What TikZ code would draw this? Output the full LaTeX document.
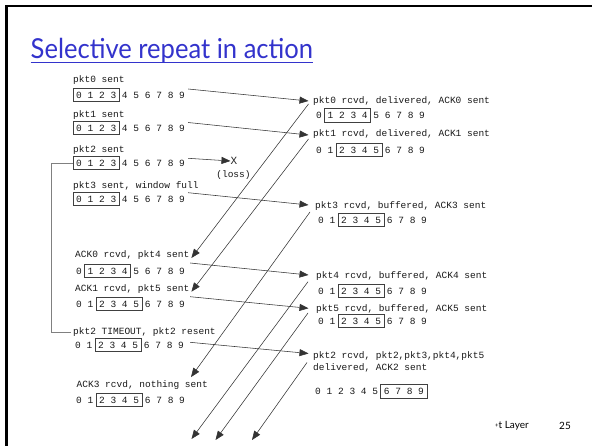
\documentclass[tikz,border=0pt]{standalone}
\usepackage{fontspec}
\setmonofont{Liberation Mono}
\newfontfamily\slidefont{Lato}
\usetikzlibrary{arrows.meta,fit,positioning}

\definecolor{titleblue}{RGB}{51,51,204}

\tikzset{
  lbl/.style={font=\ttfamily\fontsize{9.5}{11}\selectfont, inner sep=0pt, anchor=west,
    text height=6.5pt, text depth=2pt, text=black!90},
  digit/.style={font=\ttfamily\fontsize{9.5}{11}\selectfont, inner sep=0pt,
    minimum width=5.7pt, text height=6.5pt, text depth=0pt, text=black!90},
  winbox/.style={draw=black!75, line width=0.6pt, inner xsep=2.9pt, inner ysep=3.25pt},
  pkt/.style={draw=black!80, line width=0.55pt, -{Triangle[length=9pt,width=7pt]}},
  timer/.style={draw=black!50, line width=0.8pt},
}

% sequence numbers 0..9, window boxed: name, x of 0, y, first, last
\newcommand{\seqrow}[5]{%
  \foreach \d in {0,...,9}
    \node[digit] (#1-\d) at (#2+\d*11.45, #3) {\d};
  \node[winbox, fit=(#1-#4)(#1-#5)] (#1-box) {};
}

\begin{document}
\begin{tikzpicture}[x=1pt,y=1pt]
\useasboundingbox (0,0) rectangle (592,-446);
\fill[white] (0,0) rectangle (592,-446);
\draw[line width=2.5pt] (6.5,-446) -- (6.5,-6) -- (592,-6);

\node[inner sep=0pt, anchor=base west, text=titleblue, xscale=0.93,
  font=\slidefont\fontsize{27.5}{30}\selectfont] (title) at (30.5,-58.3) {Selective repeat in action};
\draw[titleblue, line width=1.4pt] ([yshift=-4.2pt]title.base west) -- ([yshift=-4.2pt]title.base east);

% sender
\node[lbl] (s0lab) at (73,-80) {pkt0 sent};
\seqrow{s0}{79}{-95}{0}{3}
\node[lbl] (s1lab) at (73,-115) {pkt1 sent};
\seqrow{s1}{79}{-128}{0}{3}
\node[lbl] (s2lab) at (73,-150) {pkt2 sent};
\seqrow{s2}{79}{-163}{0}{3}
\node[lbl] (s3lab) at (73,-186) {pkt3 sent, window full};
\seqrow{s3}{79}{-199}{0}{3}
\node[lbl] (a0lab) at (75,-255) {ACK0 rcvd, pkt4 sent};
\seqrow{a0}{79}{-271}{1}{4}
\node[lbl] (a1lab) at (75,-289) {ACK1 rcvd, pkt5 sent};
\seqrow{a1}{79}{-304}{2}{5}
\node[lbl] (t2lab) at (73,-332) {pkt2 TIMEOUT, pkt2 resent};
\seqrow{t2}{78}{-345}{2}{5}
\node[lbl] (a3lab) at (76.5,-385) {ACK3 rcvd, nothing sent};
\seqrow{a3}{79}{-400}{2}{5}

% receiver
\node[lbl] (r0lab) at (313,-101) {pkt0 rcvd, delivered, ACK0 sent};
\seqrow{r0}{319}{-115.5}{1}{4}
\node[lbl] (r1lab) at (313,-134) {pkt1 rcvd, delivered, ACK1 sent};
\seqrow{r1}{319}{-150}{2}{5}
\node[lbl] (r3lab) at (315,-206) {pkt3 rcvd, buffered, ACK3 sent};
\seqrow{r3}{321}{-220}{2}{5}
\node[lbl] (r4lab) at (316,-276) {pkt4 rcvd, buffered, ACK4 sent};
\seqrow{r4}{321}{-291}{2}{5}
\node[lbl] (r5lab) at (316,-309) {pkt5 rcvd, buffered, ACK5 sent};
\seqrow{r5}{321}{-321}{2}{5}
\node[lbl] (r2lab) at (313,-356.5) {pkt2 rcvd, pkt2,pkt3,pkt4,pkt5};
\node[lbl] (r2lab2) at (313,-368) {delivered, ACK2 sent};
\seqrow{r2}{318}{-391.5}{6}{9}

% lost packet
\node[font=\ttfamily\fontsize{11}{12}\selectfont, inner sep=0pt, text=black!85] (lossx) at (234,-161) {X};
\node[lbl, anchor=center] (losslab) at (233.5,-175) {(loss)};

% data packets
\draw[pkt] ([shift={(6pt,6pt)}]s0-9.center) -- ([xshift=-4.5pt]r0lab.west);
\draw[pkt] ([shift={(6pt,5.5pt)}]s1-9.center) -- ([shift={(-4.5pt,-1pt)}]r1lab.west);
\draw[pkt] ([shift={(6pt,4.7pt)}]s2-9.center) -- (lossx.west);
\draw[pkt] ([shift={(6pt,6.3pt)}]s3-9.center) -- ([shift={(-6.5pt,1pt)}]r3lab.west);
\draw[pkt] ([shift={(8pt,8pt)}]a0-9.center) -- ([shift={(-7.5pt,1pt)}]r4lab.west);
\draw[pkt] ([shift={(8pt,7.3pt)}]a1-9.center) -- ([shift={(-7.5pt,0.7pt)}]r5lab.west);
\draw[pkt] ([shift={(9pt,2.7pt)}]t2-9.center) -- ([shift={(-4.5pt,3pt)}]r2lab.west);

% acks
\coordinate (ack4end) at (191.5,-439);
\coordinate (ack5end) at (215.5,-440);
\coordinate (ack2end) at (252,-440);
\draw[pkt] ([shift={(-4.5pt,-3pt)}]r0lab.west) -- ([shift={(2pt,-3pt)}]a0lab.east);
\draw[pkt] ([shift={(-4.5pt,-5pt)}]r1lab.west) -- ([shift={(2pt,-2.7pt)}]a1lab.east);
\draw[pkt] ([shift={(-5pt,-6pt)}]r3lab.west) -- ([shift={(-17pt,3.5pt)}]a3lab.north east);
\draw[pkt] ([shift={(-8pt,-5.7pt)}]r4lab.west) -- (ack4end);
\draw[pkt] ([shift={(-8pt,-4pt)}]r5lab.west) -- (ack5end);
\draw[pkt] ([shift={(-6pt,-6pt)}]r2lab.west) -- (ack2end);

% timeout
\draw[timer] (s2-box.west) -- ++(-21.5,0) |- ([xshift=-2pt]t2lab.west);

\node[inner sep=0pt, anchor=west, font=\slidefont\fontsize{10}{12}\selectfont] (footer) at (495,-426)
  {\raisebox{1pt}{\scalebox{0.6}{+}}t Layer};
\node[inner sep=0pt, anchor=west, font=\slidefont\fontsize{10}{12}\selectfont] (pageno) at (559,-426) {25};
\end{tikzpicture}
\end{document}
